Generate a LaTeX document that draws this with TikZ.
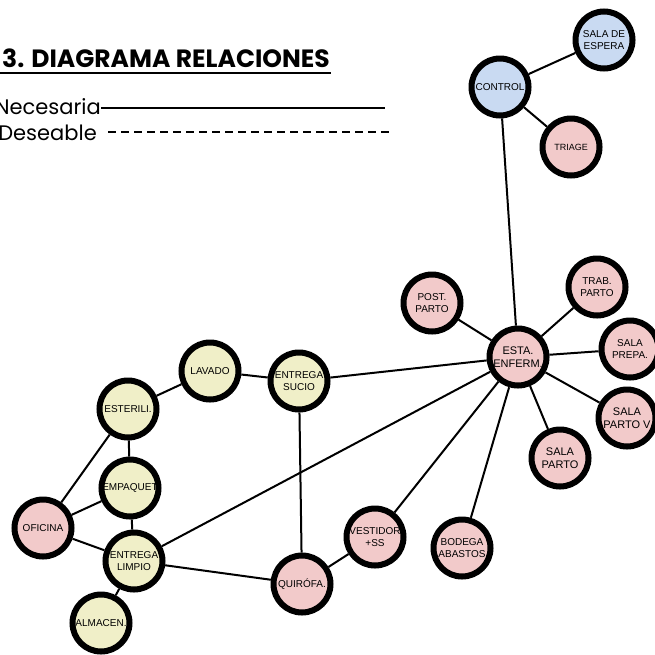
\documentclass[tikz,border=0pt]{standalone}
\usepackage{fontspec}
\setmainfont{Liberation Sans}
\newfontfamily\titlefont{Poppins}
\usetikzlibrary{shapes}

\definecolor{amarillo}{RGB}{240,239,200}
\definecolor{rosa}{RGB}{242,202,202}
\definecolor{azul}{RGB}{201,218,242}

\tikzset{
  area/.style={circle,draw=black,line width=6pt,minimum size=57pt,inner sep=0pt,
    align=center,font=\fontsize{10}{11.5}\selectfont},
  limpio/.style={area,fill=amarillo},
  clinica/.style={area,fill=rosa},
  acceso/.style={area,fill=azul},
  enlace/.style={line width=2pt,black}
}

\begin{document}
\begin{tikzpicture}[x=1pt,y=-1pt]
\useasboundingbox (0,0) rectangle (655,654);
% titulo y leyenda
\node[anchor=base east,inner sep=0pt,font=\titlefont\bfseries\fontsize{25}{27}\selectfont] (titulo) at (330,67) {3. DIAGRAMA RELACIONES};
\draw[line width=2.5pt] (-10,73) -- (331,73);
\node[anchor=base east,inner sep=0pt,font=\titlefont\fontsize{21}{24}\selectfont] (nec) at (101,114) {Necesaria};
\coordinate (necfin) at (385,108);
\draw[line width=1.8pt] (101,108) -- (necfin);
\node[anchor=base east,inner sep=0pt,font=\titlefont\fontsize{21}{24}\selectfont] (des) at (97,140) {Deseable};
\coordinate (desfin) at (392,132);
\draw[line width=1.8pt,dash pattern=on 8pt off 5pt] (108,132) -- (desfin);
% zona de acceso
\node[acceso] (espera) at (604,40) {SALA DE\\ESPERA};
\node[acceso] (control) at (500,87) {CONTROL};
\node[clinica,font=\fontsize{9}{10}\selectfont] (triage) at (571,147) {TRIAGE};
% zona de partos
\node[clinica,font=\fontsize{11}{12.5}\selectfont] (enferm) at (518,357) {ESTA.\\ENFERM.};
\node[clinica] (postparto) at (432,303) {POST.\\PARTO};
\node[clinica] (trabparto) at (597,287) {TRAB.\\PARTO};
\node[clinica] (prepa) at (630,349) {SALA\\PREPA.};
\node[clinica,font=\fontsize{11}{12.5}\selectfont] (partov) at (627,418) {SALA\\PARTO V};
\node[clinica,font=\fontsize{11}{12.5}\selectfont] (parto) at (560,458) {SALA\\PARTO};
\node[clinica] (bodega) at (462,548) {BODEGA\\ABASTOS};
\node[clinica] (vestidor) at (375,537) {VESTIDOR\\+SS};
\node[clinica] (quirofa) at (302,584) {QUIRÓFA.};
% zona de esterilizacion
\node[limpio] (sucio) at (299,381) {ENTREGA\\SUCIO};
\node[limpio] (lavado) at (210,371) {LAVADO};
\node[limpio] (esterili) at (128,409) {ESTERILI.};
\node[limpio] (empaquet) at (130,488) {EMPAQUET};
\node[clinica] (oficina) at (43,528) {OFICINA};
\node[limpio] (entlimpio) at (134,561) {ENTREGA\\LIMPIO};
\node[limpio] (almacen) at (101,623) {ALMACEN.};
% relaciones
\draw[enlace] (control) -- (espera);
\draw[enlace] (control) -- (triage);
\draw[enlace] (control) -- (enferm);
\draw[enlace] (enferm) -- (postparto);
\draw[enlace] (enferm) -- (trabparto);
\draw[enlace] (enferm) -- (prepa);
\draw[enlace] (enferm) -- (partov);
\draw[enlace] (enferm) -- (parto);
\draw[enlace] (enferm) -- (bodega);
\draw[enlace] (enferm) -- (vestidor);
\draw[enlace] (enferm) -- (entlimpio);
\draw[enlace] (enferm) -- (sucio);
\draw[enlace] (sucio) -- (lavado);
\draw[enlace] (sucio) -- (quirofa);
\draw[enlace] (lavado) -- (esterili);
\draw[enlace] (esterili) -- (empaquet);
\draw[enlace] (esterili) -- (oficina);
\draw[enlace] (empaquet) -- (oficina);
\draw[enlace] (empaquet) -- (entlimpio);
\draw[enlace] (oficina) -- (entlimpio);
\draw[enlace] (entlimpio) -- (almacen);
\draw[enlace] (entlimpio) -- (quirofa);
\draw[enlace] (quirofa) -- (vestidor);
\end{tikzpicture}
\end{document}
